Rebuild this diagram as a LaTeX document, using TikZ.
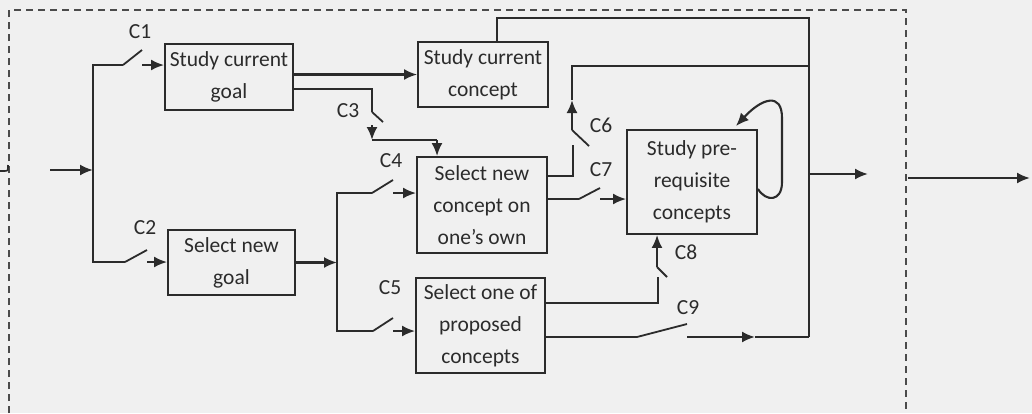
\documentclass[tikz,border=0pt]{standalone}
\usepackage{fontspec}
\setmainfont{Carlito}
\usetikzlibrary{arrows.meta}
\definecolor{ink}{HTML}{2B2B2B}
\definecolor{paper}{HTML}{F0F0F0}
\begin{document}
\begin{tikzpicture}[x=1pt,y=-1pt,
  font=\fontsize{21.5}{32}\selectfont,
  every node/.style={text=ink},
  wire/.style={draw=ink,line width=2.1pt},
  arr/.style={wire,-{Latex[length=13pt,width=11pt]}},
  blade/.style={draw=ink,line width=1.8pt},
  procbox/.style={draw=ink,line width=1.9pt,inner sep=0pt,align=center},
  lbl/.style={inner sep=0pt},
  frame/.style={draw=ink!85,line width=1.7pt,dash pattern=on 7pt off 5pt}]
\useasboundingbox (0,0) rectangle (1032,413);
\fill[paper] (0,0) rectangle (1032,413);

% dashed system boundary
\draw[frame] (9,413) -- (9,10) -- (906,10) -- (906,413);

% process boxes
\node[procbox,minimum width=128pt,minimum height=66pt] (StudyGoal) at (229,77) {Study current\\goal};
\node[procbox,minimum width=130pt,minimum height=65pt] (StudyConcept) at (483,74.5) {Study current\\concept};
\node[procbox,minimum width=130pt,minimum height=96pt] (NewConcept) at (482,205) {Select new\\concept on\\one’s own};
\node[procbox,minimum width=127pt,minimum height=65pt] (NewGoal) at (231.5,262.5) {Select new\\goal};
\node[procbox,minimum width=129pt,minimum height=95pt] (Proposed) at (480.5,325.5) {Select one of\\proposed\\concepts};
\node[procbox,minimum width=130pt,minimum height=104pt] (Prereq) at (692,182) {Study pre-\\requisite\\concepts};

% switch labels
\node[lbl] (C1) at (140,32) {C1};
\node[lbl] (C2) at (145,228) {C2};
\node[lbl] (C3) at (348,111) {C3};
\node[lbl] (C4) at (391,161) {C4};
\node[lbl] (C5) at (390,288) {C5};
\node[lbl] (C6) at (601,125) {C6};
\node[lbl] (C7) at (601,170) {C7};
\node[lbl] (C8) at (686,252) {C8};
\node[lbl] (C9) at (688,308) {C9};

% junction and switch points
\coordinate (inS) at (50,170);
\coordinate (busT) at (93,65);
\coordinate (busB) at (93,262);
\coordinate (s1a) at (123,65);
\coordinate (s1b) at (142,50);
\coordinate (s2a) at (125,262);
\coordinate (s2b) at (147,250);
\coordinate (b2T) at (337,193);
\coordinate (b2B) at (337,331);
\coordinate (s4a) at (372,193);
\coordinate (s4b) at (393,180);
\coordinate (s5a) at (373,331);
\coordinate (s5b) at (393,318);
\coordinate (c3top) at (372,89);
\coordinate (s3a) at (372,112);
\coordinate (s3b) at (383,122);
\coordinate (s3c) at (372,125);
\coordinate (c3j) at (372,140);
\coordinate (c3k) at (437,140);
\coordinate (t1) at (497,18);
\coordinate (t2) at (809,18);
\coordinate (rB) at (809,337);
\coordinate (c6a) at (573,176);
\coordinate (c6b) at (573,145);
\coordinate (c6c) at (572,130);
\coordinate (c6d) at (589,146);
\coordinate (c6e) at (572,100);
\coordinate (c6g) at (572,66);
\coordinate (s7a) at (579,199);
\coordinate (s7b) at (600,188);
\coordinate (c8a) at (658,303);
\coordinate (c8b) at (658,277);
\coordinate (c8c) at (657,267);
\coordinate (c8d) at (667,277);
\coordinate (s9a) at (637,337);
\coordinate (s9b) at (687,324);
\coordinate (c9t) at (755,337);
\coordinate (out1) at (868,174);
\coordinate (out2a) at (908,178);
\coordinate (out2b) at (1030,178);

% incoming line ending at the boundary
\draw[wire,line width=1.6pt] (0,171) -- (4,171) .. controls (8,171) .. (8,165);

% input and first bus
\draw[arr] (inS) -- (inS -| busT);
\draw[wire] (s1a) -- (busT) -- (busB) -- (s2a);
\draw[blade] (s1a) -- (s1b);
\draw[arr] (s1b |- s1a) -- (StudyGoal.west |- s1a);
\draw[blade] (s2a) -- (s2b);
\draw[arr] (s2b |- s2a) -- (NewGoal.west |- s2a);

% from the current goal
\draw[arr] (StudyGoal.east |- StudyConcept.west) -- (StudyConcept.west);
\draw[wire] (StudyGoal.east |- c3top) -- (c3top) -- (s3a);
\draw[blade] (s3a) -- (s3b);
\draw[arr] (s3c) -- (c3j);
\draw[wire] (c3j) -- (c3k);
\draw[arr] (c3k) -- (NewConcept.north -| c3k);

% from the new goal to the second bus
\draw[arr] (NewGoal.east) -- (NewGoal.east -| b2T);
\draw[wire] (s4a) -- (b2T) -- (b2B) -- (s5a);
\draw[blade] (s4a) -- (s4b);
\draw[arr] (s4b |- s4a) -- (NewConcept.west |- s4a);
\draw[blade] (s5a) -- (s5b);
\draw[arr] (s5b |- s5a) -- (Proposed.west |- s5a);

% return lines to the right bus
\draw[wire] (StudyConcept.north -| t1) -- (t1) -- (t2) -- (rB);
\draw[wire] (NewConcept.east |- c6a) -- (c6a) -- (c6b);
\draw[blade] (c6c) -- (c6d);
\draw[arr] (c6c) -- (c6e);
\draw[wire] (c6e) -- (c6g) -- (c6g -| rB);

% C7 into the prerequisite study
\draw[wire] (NewConcept.east |- s7a) -- (s7a);
\draw[blade] (s7a) -- (s7b);
\draw[arr] (s7b |- s7a) -- (Prereq.west |- s7a);

% C8 from the proposed concepts
\draw[wire] (Proposed.east |- c8a) -- (c8a) -- (c8b);
\draw[blade] (c8c) -- (c8d);
\draw[arr] (c8c) -- (Prereq.south -| c8c);

% C9 straight to the right bus
\draw[wire] (Proposed.east |- s9a) -- (s9a);
\draw[blade] (s9a) -- (s9b);
\draw[arr] (s9b |- s9a) -- (c9t);
\draw[wire] (c9t) -- (rB);

% self loop on the prerequisite study
\draw[arr] ([yshift=-7pt]Prereq.east) .. controls (766,202) and (782,202) .. (782,182)
  -- (782,118) .. controls (782,92) and (762,98) .. ([xshift=-22pt,yshift=3pt]Prereq.north east);

% outputs
\draw[arr] (rB |- out1) -- (out1);
\draw[arr] (out2a) -- (out2b);
\end{tikzpicture}
\end{document}
